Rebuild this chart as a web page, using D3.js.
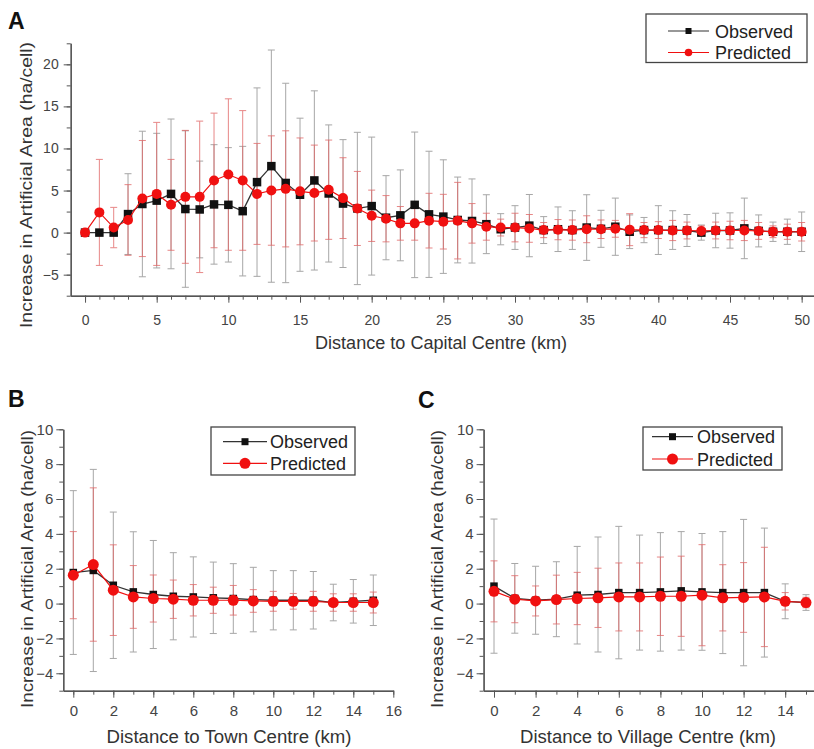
<!DOCTYPE html>
<meta charset="utf-8">
<title>Increase in Artificial Area vs Distance</title>
<style>
body { margin: 0; background: #fff; }
svg { font-family: "Liberation Sans", Arial, sans-serif; }
.tick text { fill: #444; }
.tick line, .domain { stroke: #555; }
</style>
<body>
<div id="chart"></div>
<script src="https://cdn.jsdelivr.net/npm/d3@7"></script>
<script>
// panel A: distance to capital centre (km)
var capitalKm = d3.range(0, 51);
var capitalObs = [0,0,0,2.2,3.4,3.8,4.6,2.8,2.75,3.35,
                  3.3,2.55,6.0,7.9,5.9,4.5,6.2,4.65,3.45,2.87,
                  3.15,1.77,2.05,3.3,2.17,1.9,1.5,1.38,1.0,0.4,
                  0.6,0.83,0.3,0.4,0.3,0.6,0.45,0.7,0.1,0.3,
                  0.3,0.3,0.25,0.0,0.25,0.25,0.5,0.2,0.1,0.1,0.1];
var capitalObsSd = [0,0,0,4.8,8.65,8.0,8.9,9.3,5.75,7.1,
                    6.8,7.7,11.2,13.8,11.85,9.1,10.65,8.15,7.6,9.05,
                    8.2,5.0,5.4,8.65,7.5,6.75,5.1,5.0,3.5,1.85,
                    2.6,3.7,1.6,2.65,2.3,3.9,2.2,3.4,2.0,1.5,
                    2.9,2.3,1.9,0.9,2.05,2.1,3.6,1.9,1.15,1.5,2.35];
var capitalPred = [0,2.4,0.6,1.5,4.05,4.6,3.3,4.25,4.25,6.2,
                   6.9,6.2,4.6,5.0,5.2,4.9,4.7,5.1,4.1,2.87,
                   2.0,1.65,1.1,1.1,1.42,1.3,1.42,1.1,0.7,0.6,
                   0.6,0.5,0.3,0.35,0.3,0.4,0.4,0.45,0.35,0.3,
                   0.3,0.25,0.25,0.2,0.25,0.25,0.25,0.2,0.1,0.1,0.1];
var capitalPredSd = [0,6.3,2.4,4.2,6.9,8.5,5.4,7.9,9.0,8.0,
                     9.0,8.3,6.0,6.5,6.9,6.35,5.7,5.9,4.8,4.4,
                     3.05,2.75,2.0,2.0,3.25,3.25,4.55,2.35,1.6,1.0,
                     1.7,1.65,0.9,1.2,1.2,1.6,1.1,1.0,1.9,0.9,
                     1.0,1.2,1.0,0.6,1.0,1.1,1.2,1.0,0.7,0.9,1.1];

// panel B: distance to town centre (km)
var townKm = d3.range(0, 16);
var townObs = [1.78,1.9,1.05,0.67,0.52,0.42,0.38,0.33,0.29,0.23,0.19,0.19,0.19,0.06,0.13,0.19];
var townObsSd = [4.7,5.8,4.2,3.45,3.1,2.5,2.3,2.05,2.0,1.85,1.7,1.7,1.65,1.05,1.25,1.45];
var townPred = [1.63,2.24,0.77,0.38,0.29,0.25,0.19,0.19,0.19,0.15,0.13,0.13,0.13,0.06,0.06,0.06];
var townPredSd = [2.5,4.4,2.6,1.8,1.35,1.1,0.9,0.75,0.85,0.65,0.57,0.45,0.57,0.5,0.5,0.6];

// panel C: distance to village centre (km)
var villageKm = d3.range(0, 16);
var villageObs = [1.0,0.3,0.19,0.25,0.48,0.52,0.63,0.63,0.67,0.73,0.67,0.63,0.63,0.63,0.13,0.06];
var villageObsSd = [3.85,2.0,1.95,2.15,2.8,3.3,3.8,3.3,3.4,3.4,3.35,3.5,4.2,3.7,1.0,0.45];
var villagePred = [0.7,0.25,0.15,0.23,0.29,0.33,0.38,0.38,0.42,0.42,0.48,0.33,0.35,0.38,0.13,0.06];
var villagePredSd = [1.75,1.35,0.86,1.4,1.5,1.7,1.95,1.95,2.25,2.3,2.9,1.9,2.0,2.85,0.5,0.3];

var yTitle = "Increase in Artificial Area (ha/cell)";

var svg = d3.select("#chart").append("svg")
    .attr("width", 814)
    .attr("height", 749);

var panels = [
  {letter: "A", lx: 8, ly: 29, km: capitalKm, obs: capitalObs, obsSd: capitalObsSd,
   pred: capitalPred, predSd: capitalPredSd,
   xDomain: [-1, 51], xRange: [70.7, 816], yDomain: [-7.5, 22.5], yRange: [295.7, 43.3],
   xMajor: d3.range(0, 51, 5), xMinor: d3.range(0, 51, 1),
   yMajor: [-5, 0, 5, 10, 15, 20], yMinor: d3.range(-7.5, 22.6, 2.5),
   tickFont: 14, xPad: 12, yPad: 5,
   xTitle: "Distance to Capital Centre (km)", xTitleX: 441, xTitleY: 349, xTitleLen: 252,
   yTitleX: 32, yTitleY: 185, yTitleLen: 286,
   legend: {x: 646, y: 14, w: 161, h: 48.5, line: [668, 709], text: 715, rows: [31, 52.5], sq: 6, r: 3.8},
   sq: 8.5, r: 5, cap: 3.5},
  {letter: "B", lx: 8, ly: 407, km: townKm, obs: townObs, obsSd: townObsSd,
   pred: townPred, predSd: townPredSd,
   xDomain: [-0.5, 16], xRange: [63.3, 393.3], yDomain: [-5, 10], yRange: [690.7, 429.3],
   xMajor: d3.range(0, 17, 2), xMinor: d3.range(0, 17, 1),
   yMajor: d3.range(-4, 11, 2), yMinor: d3.range(-5, 11, 1),
   tickFont: 15, xPad: 8, yPad: 3,
   xTitle: "Distance to Town Centre (km)", xTitleX: 229, xTitleY: 743, xTitleLen: 245,
   yTitleX: 33, yTitleY: 569, yTitleLen: 278,
   legend: {x: 211, y: 427, w: 144, h: 48, line: [223, 267], text: 270, rows: [441.7, 463.3], sq: 7, r: 5.5},
   sq: 7.5, r: 5.5, cap: 3.5},
  {letter: "C", lx: 418, ly: 408, km: villageKm, obs: villageObs, obsSd: villageObsSd,
   pred: villagePred, predSd: villagePredSd,
   xDomain: [-0.5, 15.5], xRange: [483.6, 816.4], yDomain: [-5, 10], yRange: [690.7, 429.3],
   xMajor: d3.range(0, 15, 2), xMinor: d3.range(0, 16, 1),
   yMajor: d3.range(-4, 11, 2), yMinor: d3.range(-5, 11, 1),
   tickFont: 15, xPad: 8, yPad: 3,
   xTitle: "Distance to Village Centre (km)", xTitleX: 648, xTitleY: 743, xTitleLen: 256,
   yTitleX: 443, yTitleY: 569, yTitleLen: 278,
   legend: {x: 643, y: 427, w: 139, h: 43, line: [652, 693], text: 697, rows: [436.7, 459], sq: 7, r: 5.5},
   sq: 7.5, r: 5.5, cap: 3.5}
];

var obsColor = "#111", obsBar = "#8a8a8a",
    predColor = "#f01010", predBar = "#e06060";

panels.forEach(function(p) {
  var x = d3.scaleLinear().domain(p.xDomain).range(p.xRange);
  var y = d3.scaleLinear().domain(p.yDomain).range(p.yRange);
  var g = svg.append("g");

  // axes: minor ticks first, then labelled major ticks
  var xAxisY = p.yRange[0], yAxisX = p.xRange[0];
  g.append("g").attr("transform", "translate(0," + xAxisY + ")")
    .call(d3.axisBottom(x).tickValues(p.xMinor).tickFormat("").tickSize(4).tickSizeOuter(0));
  var xa = g.append("g").attr("transform", "translate(0," + xAxisY + ")")
    .call(d3.axisBottom(x).tickValues(p.xMajor).tickSize(7).tickSizeOuter(0).tickPadding(p.xPad));
  xa.select(".domain").attr("stroke-width", 1.4);
  xa.selectAll(".tick text").attr("font-size", p.tickFont);
  g.append("g").attr("transform", "translate(" + yAxisX + ",0)")
    .call(d3.axisLeft(y).tickValues(p.yMinor).tickFormat("").tickSize(4).tickSizeOuter(0));
  var ya = g.append("g").attr("transform", "translate(" + yAxisX + ",0)")
    .call(d3.axisLeft(y).tickValues(p.yMajor).tickSize(7).tickSizeOuter(0).tickPadding(p.yPad));
  ya.select(".domain").attr("stroke-width", 1.4);
  ya.selectAll(".tick text").attr("font-size", p.tickFont);

  // error bars
  function bars(vals, sds, color) {
    var b = g.append("g").attr("stroke", color).attr("stroke-width", 1).attr("opacity", 0.75);
    p.km.forEach(function(k, i) {
      if (!sds[i]) return;
      var cx = x(k), y0 = y(vals[i] - sds[i]), y1 = y(vals[i] + sds[i]);
      b.append("line").attr("x1", cx).attr("x2", cx).attr("y1", y0).attr("y2", y1);
      b.append("line").attr("x1", cx - p.cap).attr("x2", cx + p.cap).attr("y1", y0).attr("y2", y0);
      b.append("line").attr("x1", cx - p.cap).attr("x2", cx + p.cap).attr("y1", y1).attr("y2", y1);
    });
  }
  bars(p.obs, p.obsSd, obsBar);
  bars(p.pred, p.predSd, predBar);

  var line = d3.line().x(function(d) { return x(d[0]); }).y(function(d) { return y(d[1]); });
  var obsPts = p.km.map(function(k, i) { return [k, p.obs[i]]; });
  var predPts = p.km.map(function(k, i) { return [k, p.pred[i]]; });

  g.append("path").datum(obsPts).attr("d", line)
    .attr("fill", "none").attr("stroke", "#333").attr("stroke-width", 1.3);
  g.selectAll(".sq").data(obsPts).enter().append("rect")
    .attr("x", function(d) { return x(d[0]) - p.sq / 2; })
    .attr("y", function(d) { return y(d[1]) - p.sq / 2; })
    .attr("width", p.sq).attr("height", p.sq).attr("fill", obsColor);

  g.append("path").datum(predPts).attr("d", line)
    .attr("fill", "none").attr("stroke", predColor).attr("stroke-width", 1.2);
  g.selectAll(".ci").data(predPts).enter().append("circle")
    .attr("cx", function(d) { return x(d[0]); })
    .attr("cy", function(d) { return y(d[1]); })
    .attr("r", p.r).attr("fill", predColor);

  // titles
  g.append("text").attr("x", p.lx).attr("y", p.ly)
    .attr("font-size", 23).attr("font-weight", "bold").attr("fill", "#111").text(p.letter);
  g.append("text").attr("x", p.xTitleX).attr("y", p.xTitleY)
    .attr("text-anchor", "middle").attr("font-size", 17.5).attr("fill", "#333")
    .attr("textLength", p.xTitleLen).attr("lengthAdjust", "spacingAndGlyphs").text(p.xTitle);
  g.append("text")
    .attr("transform", "translate(" + p.yTitleX + "," + p.yTitleY + ") rotate(-90)")
    .attr("text-anchor", "middle").attr("font-size", 17).attr("fill", "#333")
    .attr("textLength", p.yTitleLen).attr("lengthAdjust", "spacingAndGlyphs").text(yTitle);

  // legend
  var L = p.legend;
  var lg = g.append("g");
  lg.append("rect").attr("x", L.x).attr("y", L.y).attr("width", L.w).attr("height", L.h)
    .attr("fill", "#fff").attr("stroke", "#444").attr("stroke-width", 1.3);
  var mid = (L.line[0] + L.line[1]) / 2;
  [["Observed", "#333", obsColor, "sq"], ["Predicted", predColor, predColor, "ci"]].forEach(function(it, i) {
    var ry = L.rows[i];
    lg.append("line").attr("x1", L.line[0]).attr("x2", L.line[1]).attr("y1", ry).attr("y2", ry)
      .attr("stroke", it[1]).attr("stroke-width", 1.2);
    if (it[3] === "sq") {
      lg.append("rect").attr("x", mid - L.sq / 2).attr("y", ry - L.sq / 2)
        .attr("width", L.sq).attr("height", L.sq).attr("fill", it[2]);
    } else {
      lg.append("circle").attr("cx", mid).attr("cy", ry).attr("r", L.r).attr("fill", it[2]);
    }
    lg.append("text").attr("x", L.text).attr("y", ry + 6.5)
      .attr("font-size", 18).attr("fill", "#222").text(it[0]);
  });
});
</script>
</body>
</html>
